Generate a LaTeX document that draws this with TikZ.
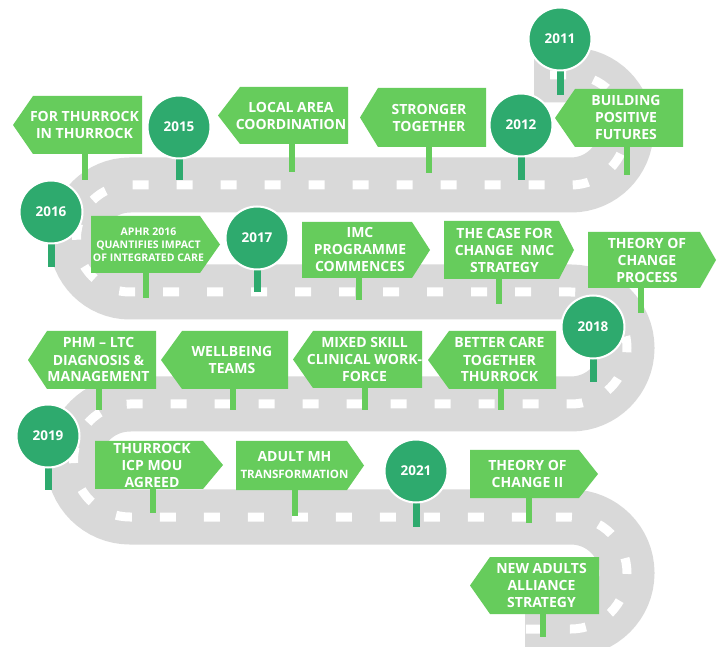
\documentclass[tikz,border=0pt]{standalone}
\usepackage{fontspec}
\setmainfont{Open Sans}
\definecolor{roadgrey}{HTML}{D9D9D9}
\definecolor{signgreen}{HTML}{66CC5C}
\definecolor{yeargreen}{HTML}{2EAA6E}
\tikzset{
  signfill/.style={fill=signgreen},
  signpin/.style={draw=signgreen, line width=6pt},
  signtext/.style={text=white, font=\bfseries\fontsize{14}{17}\selectfont, align=center, inner sep=0pt},
  yearcircle/.style={circle, fill=yeargreen, draw=white, line width=2pt, minimum size=63pt, inner sep=0pt, text=white, font=\bfseries\fontsize{13.5}{16}\selectfont},
  yearpin/.style={draw=yeargreen, line width=7pt},
  roadbase/.style={draw=roadgrey, line width=55pt},
  roadmark/.style={draw=white, line width=9pt, dash pattern=on 16pt off 28pt, dash phase=28pt}
}
% left-pointing sign: name, tip x, body left x, right x, top y, bottom y, pin x, pin foot y, text
\newcommand\LSign[9]{%
  \coordinate (#1-pt) at (#7,#6);
  \coordinate (#1-ft) at (#7,#8);
  \draw[signpin] (#1-pt) -- (#1-ft);
  \fill[signfill] (#2,{(#5+#6)/2}) -- (#3,#5) -- (#4,#5) -- (#4,#6) -- (#3,#6) -- cycle;
  \node[signtext] (#1) at ({(#3+#4)/2-3},{(#5+#6)/2}) {#9};
}
% right-pointing sign: name, left x, body right x, tip x, top y, bottom y, pin x, pin foot y, text
\newcommand\RSign[9]{%
  \coordinate (#1-pt) at (#7,#6);
  \coordinate (#1-ft) at (#7,#8);
  \draw[signpin] (#1-pt) -- (#1-ft);
  \fill[signfill] (#2,#5) -- (#3,#5) -- (#4,{(#5+#6)/2}) -- (#3,#6) -- (#2,#6) -- cycle;
  \node[signtext] (#1) at ({(#2+#3)/2+3},{(#5+#6)/2}) {#9};
}
% year marker: name, cx, cy, pin foot y, label
\newcommand\YearMark[5]{%
  \coordinate (#1-c) at (#2,#3);
  \coordinate (#1-ft) at (#2,#4);
  \draw[yearpin] (#1-c) -- (#1-ft);
  \node[yearcircle] (#1) at (#1-c) {#5};
}
\begin{document}
\begin{tikzpicture}[x=1pt,y=-1pt]
\fill[white] (0,0) rectangle (724,647);
\useasboundingbox (0,0) rectangle (724,647);
\def\roadpath{(534,75) -- (571,75) arc[start angle=-90,end angle=90,radius=55]
  -- (130,185) arc[start angle=-90,end angle=-270,radius=53.5]
  -- (571,292) arc[start angle=-90,end angle=90,radius=56]
  -- (130,404) arc[start angle=-90,end angle=-270,radius=56.5]
  -- (571,517) arc[start angle=-90,end angle=90,radius=56]
  -- (525,629)}
\draw[roadbase] \roadpath;
\draw[roadmark] \roadpath;

% row 1
\LSign{forth}{13}{33}{142}{96}{154}{85}{180}{FOR THURROCK\\IN THURROCK}
\LSign{local}{218}{240}{348}{87}{144}{292}{172}{LOCAL AREA\\COORDINATION}
\LSign{strong}{360}{378}{486}{88}{147}{429}{173}{STRONGER\\TOGETHER}
\LSign{build}{555}{575}{683}{89}{147}{627}{175}{BUILDING\\POSITIVE\\FUTURES}
% row 2
\begin{scope}[signtext/.append style={font=\bfseries\fontsize{10.5}{13}\selectfont}]
\RSign{aphr}{91}{200}{220}{216}{273}{146}{298}{APHR 2016\\QUANTIFIES IMPACT\\OF INTEGRATED CARE}
\end{scope}
\RSign{imc}{302}{412}{430}{222}{278}{359}{300}{IMC\\PROGRAMME\\COMMENCES}
\RSign{case}{444}{559}{574}{221}{279}{499}{304}{THE CASE FOR\\CHANGE\ \ NMC\\STRATEGY}
\RSign{theory}{588}{700}{716}{232}{288}{641}{313}{THEORY OF\\CHANGE\\PROCESS}
% row 3
\LSign{phm}{28}{47}{156}{331}{389}{99}{410}{PHM – LTC\\DIAGNOSIS \&\\MANAGEMENT}
\LSign{well}{161}{182}{288}{331}{389}{233}{410}{WELLBEING\\TEAMS}
\LSign{mixed}{293}{313}{422}{331}{388}{365}{410}{MIXED SKILL\\CLINICAL WORK-\\FORCE}
\LSign{better}{428}{449}{556}{331}{389}{501}{410}{BETTER CARE\\TOGETHER\\THURROCK}
% row 4
\RSign{icp}{95}{203}{223}{441}{489}{153}{513}{THURROCK\\ICP MOU\\AGREED}
\RSign{adult}{236}{347}{364}{441}{490}{295}{516}{ADULT MH\\{\fontsize{11.5}{14}\selectfont TRANSFORMATION}}
\RSign{toc2}{470}{579}{598}{450}{498}{529}{523}{THEORY OF\\CHANGE II}
% row 5
\LSign{naa}{470}{490}{599}{557}{614}{543}{637}{NEW ADULTS\\ALLIANCE\\STRATEGY}

% years
\YearMark{y2011}{560}{39}{95}{2011}
\YearMark{y2012}{521}{125}{180}{2012}
\YearMark{y2015}{179}{127}{180}{2015}
\YearMark{y2016}{51}{212}{267}{2016}
\YearMark{y2017}{257}{238}{292}{2017}
\YearMark{y2018}{593}{327}{382}{2018}
\YearMark{y2019}{48}{436}{490}{2019}
\YearMark{y2021}{416}{471}{527}{2021}
\end{tikzpicture}
\end{document}
